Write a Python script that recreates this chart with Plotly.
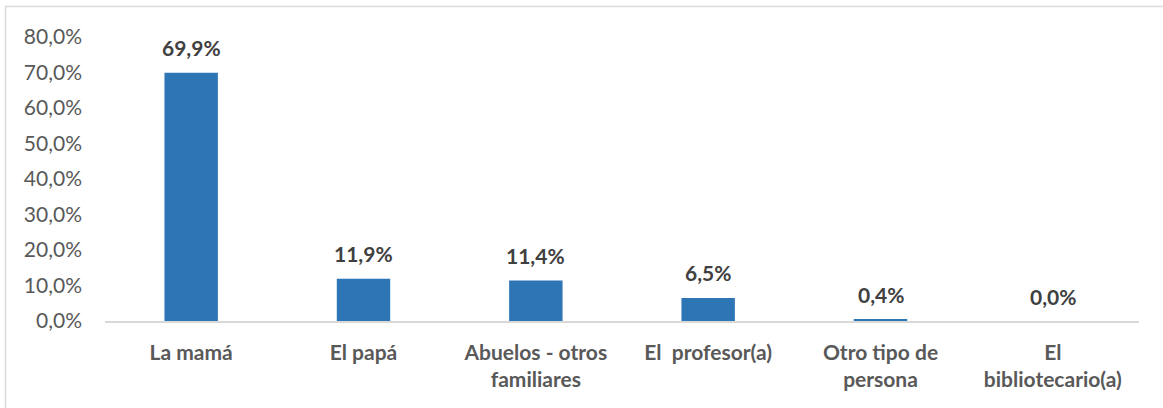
import plotly.graph_objects as go

categories = ["La mamá", "El papá", "Abuelos - otros<br>familiares", "El  profesor(a)",
              "Otro tipo de<br>persona", "El<br>bibliotecario(a)"]
values = [69.9, 11.9, 11.4, 6.5, 0.4, 0.0]
value_labels = ["69,9%", "11,9%", "11,4%", "6,5%", "0,4%", "0,0%"]
y_tickvals = [0, 10, 20, 30, 40, 50, 60, 70, 80]
y_ticktext = ["0,0%", "10,0%", "20,0%", "30,0%", "40,0%", "50,0%", "60,0%", "70,0%", "80,0%"]

FONT = "Lato"
FS = 21
W, H = 1163, 408
L, R, T, B = 105, 24, 37, 87

fig = go.Figure()
fig.add_trace(go.Bar(
    x=categories, y=values, width=0.31,
    marker=dict(color="#2E75B6", line=dict(width=0)),
    hoverinfo="skip",
))

for c, v, t in zip(categories, values, value_labels):
    fig.add_annotation(x=c, y=v, text=t, showarrow=False, yanchor="middle", yshift=25,
                       font=dict(family=FONT, size=FS, color="#404040", weight="bold"))

# chart border (top & left visible; rest clipped by viewport)
pw = W - L - R
ph = H - T - B
x0 = (5.5 - L) / pw
x1 = (W + 10 - L) / pw
y1 = (H - 6.5 - B) / ph
y0 = (-10 - B) / ph
fig.add_shape(type="rect", xref="paper", yref="paper", x0=x0, x1=x1, y0=y0, y1=y1,
              line=dict(color="#D9D9D9", width=1.5), fillcolor="rgba(0,0,0,0)", layer="below")

fig.update_layout(
    width=W, height=H,
    margin=dict(l=L, r=R, t=T, b=B),
    paper_bgcolor="white", plot_bgcolor="white",
    showlegend=False,
    font=dict(family=FONT),
    xaxis=dict(showline=True, linecolor="#D9D9D9", linewidth=1.5, ticks="", showgrid=False,
               tickfont=dict(family=FONT, size=FS, color="#595959", weight="bold"),
               ticklabelstandoff=12, fixedrange=True),
    yaxis=dict(range=[0, 80], tickvals=y_tickvals, ticktext=y_ticktext, showgrid=False,
               zeroline=False, showline=False, ticks="",
               tickfont=dict(family=FONT, size=FS, color="#595959"),
               ticklabelstandoff=22, fixedrange=True),
)

fig.write_html("out.html")
